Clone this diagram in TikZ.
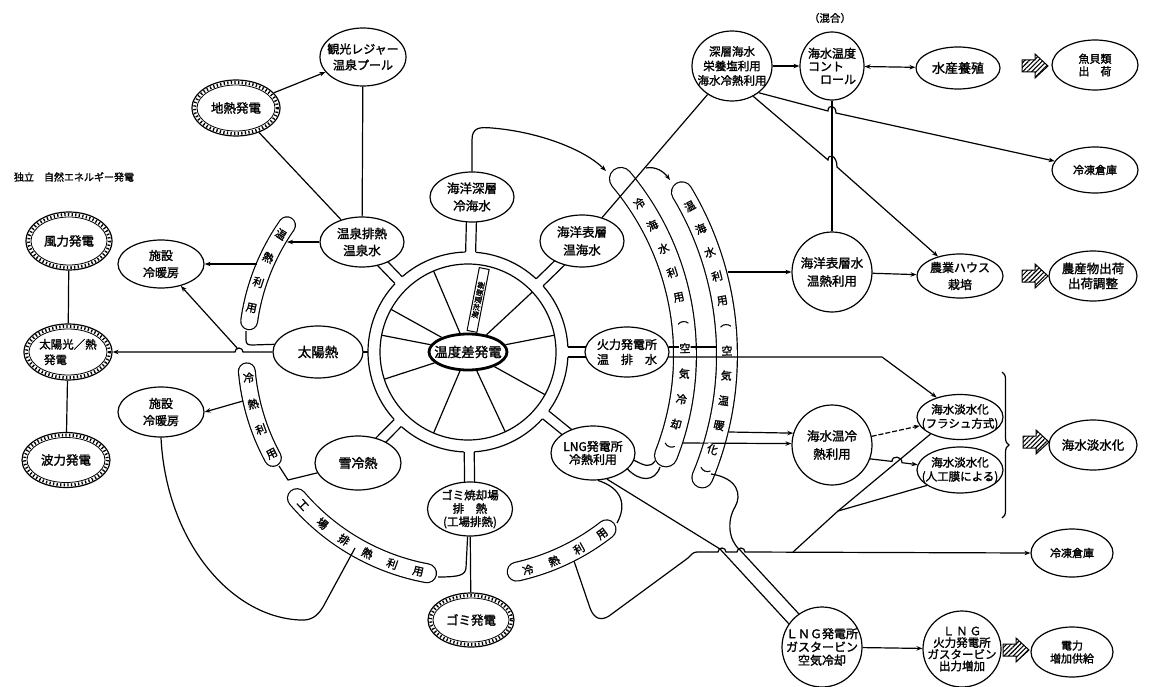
\documentclass[tikz,border=0pt]{standalone}
\usepackage{fontspec}
\newfontfamily\jpf[FakeBold=1.6]{Noto Sans CJK JP}
\usetikzlibrary{calc,shapes.geometric,arrows.meta,patterns,patterns.meta,decorations.pathreplacing}
\tikzset{
  el/.style 2 args={ellipse, draw, fill=white, line width=1.2pt, minimum width=#1, minimum height=#2, inner sep=0pt},
  lbl/.style={align=center, inner sep=0pt},
  ctext/.style={font=\jpf\fontsize{11}{11}\selectfont, fill=white, inner sep=0.3pt},
  hatchfill/.style={line width=1pt, pattern={Lines[angle=45, distance=3.2pt, line width=1.1pt]}},
}
\newcommand\enode[8]{\node[el={#4}{#5}, label={[lbl, font={\jpf\fontsize{#6}{#7}\selectfont}]center:{#8}}] (#1) at (#2,#3) {};}
\newcommand\gnode[7]{%
  \node[el={#4}{#5}, label={[lbl, font={\jpf\fontsize{#6}{15.5}\selectfont}]center:{#7}}] (#1) at (#2,#3) {};
  \draw[line width=3pt, dash pattern=on 1.3pt off 2.3pt] (#2,#3) ellipse[x radius={#4/2-2.5}, y radius={#5/2-2.5}];
  \draw[line width=0.8pt] (#2,#3) ellipse[x radius={#4/2-5}, y radius={#5/2-5}];}
\newcommand\harrow[3]{%
  \coordinate (#1) at (#2,#3);
  \draw[hatchfill] ($(#1)+(-13,-6)$) -- ($(#1)+(0,-6)$) -- ($(#1)+(0,-12)$) -- ($(#1)+(13,0)$) -- ($(#1)+(0,12)$) -- ($(#1)+(0,6)$) -- ($(#1)+(-13,6)$) -- cycle;}
\newcommand\capsule[5]{%
  \draw[line width=#5pt, line cap=round] ($(#1)+(#3:#2)$) arc[start angle=#3, end angle=#4, radius=#2];
  \draw[white, line width=#5pt-2.4pt, line cap=round] ($(#1)+(#3:#2)$) arc[start angle=#3, end angle=#4, radius=#2];}
\newcommand\mypipe[2]{%
  \draw ($(C)+(#1:100)+(#1+90:5)$) -- ($(C)+(#1:#2)+(#1+90:5)$);
  \draw ($(C)+(#1:100)+(#1-90:5)$) -- ($(C)+(#1:#2)+(#1-90:5)$);}
\begin{document}
\begin{tikzpicture}[x=1pt, y=-1pt, line width=1.2pt, >={Stealth[length=6pt,width=4.5pt]}]
\fill[white] (0,0) rectangle (1150,687);
\useasboundingbox (0,0) rectangle (1150,687);
\coordinate (C) at (468,352);
\coordinate (C2) at (411,355);
% ring
\draw (C) circle[radius=88];
\foreach \s/\e in {131.7/92.3, 86.3/42, 36/3, -3/-41.2, -47.2/-85.5, -91.5/-131, -137/-222.3}
  \draw ($(C)+(\s:100)$) arc[start angle=\s, end angle=\e, radius=100];
\mypipe{-134}{153}
\mypipe{-88.5}{155}
\mypipe{-44.2}{159}
\mypipe{0}{159}
\mypipe{39}{161}
\mypipe{89.3}{157}
\mypipe{134.7}{156}
\draw (318,352) -- (368,352);
% capsules
\capsule{C}{221}{-145}{-172}{18}
\capsule{C}{222}{-185}{-208.5}{18}
\capsule{C}{225}{-220.5}{-259.5}{20}
\capsule{C}{225}{77.5}{52}{20}
\capsule{C2}{274}{-40}{21.5}{24}
\capsule{C2}{316}{-31}{22.8}{22}
% nodes
\enode{kanko}{363}{57}{86}{58}{12}{16}{観光レジャー\\温泉プール}
\gnode{chinetsu}{236}{108}{88}{56}{12.5}{地熱発電}
\node[font=\jpf\fontsize{10}{12}\selectfont, inner sep=0pt] (dokuritsu) at (74,177) {独立　自然エネルギー発電};
\gnode{fuuryoku}{69}{241}{86}{58}{12.5}{風力発電}
\enode{setsu1}{161}{264}{86}{48}{12}{17}{施設\\冷暖房}
\enode{onsen}{362}{242}{84}{50}{12.5}{17}{温泉排熱\\温泉水}
\gnode{taiyoko}{68}{352}{88}{56}{11.5}{太陽光／熱\\\makebox[58pt][l]{\hspace{5pt}発電}}
\enode{taiyonetsu}{318}{352}{90}{52}{13.5}{16}{太陽熱}
\enode{setsu2}{161}{412}{86}{50}{12}{17}{施設\\冷暖房}
\gnode{haryoku}{66}{460}{88}{55}{12.5}{波力発電}
\enode{yuki}{358}{463}{86}{54}{13}{16}{雪冷熱}
\enode{kaiyoshin}{472}{197}{84}{50}{12.5}{17.5}{海洋深層\\冷海水}
\enode{kaiyohyo}{582}{241}{84}{52}{12.5}{18}{海洋表層\\温海水}
\node[el={78}{36}, line width=2.8pt, label={[lbl,font={\jpf\fontsize{13.5}{16}\selectfont}]center:{温度差発電}}] (tdiff) at (C) {};
\foreach \a in {113,151,169,198,247,295,331,11,43} \draw (tdiff.\a) -- ($(C)+(-\a:88)$);
\node[draw, fill=white, line width=1pt, rotate=79, minimum width=64pt, minimum height=10pt, inner sep=0pt, font=\jpf\fontsize{7.5}{8}\selectfont] (kaiyoondo) at ($(C)+(-79:53)$) {海洋温度差};
\enode{karyoku}{627}{352}{84}{50}{12}{15}{火力発電所\\温　排　水}
\enode{lng}{593}{453}{84}{54}{12}{13}{LNG発電所\\冷熱利用}
\enode{gomi}{470}{509}{85}{54}{11.5}{13.3}{ゴミ焼却場\\排　熱\\(工場排熱)}
\gnode{gomihatsu}{471}{620}{86}{54}{12.5}{ゴミ発電}
\enode{shinso}{732}{66}{80}{70}{11.5}{14.5}{深層海水\\栄養塩利用\\海水冷熱利用}
\node[font=\jpf\fontsize{10.5}{12}\selectfont, inner sep=0pt] (kongo) at (830,18) {（混合）};
\node[el={64}{68}, label={[align=left, inner sep=0pt, font={\jpf\fontsize{12}{13}\selectfont}]center:{海水温度\\コント\\\hspace{12pt}ロール}}] (ondo) at (832,66) {};
\enode{yoshoku}{958}{68}{84}{42}{13}{15}{水産養殖}
\harrow{ha1}{1035}{66}
\enode{gyokai}{1095}{65}{86}{50}{11}{12.5}{魚貝類\\出　荷}
\enode{reito1}{1095}{170}{86}{46}{11}{13}{冷凍倉庫}
\enode{hyosui}{832}{272}{80}{80}{12.5}{18}{海洋表層水\\温熱利用}
\enode{nogyo}{960}{276}{86}{44}{12}{17}{農業ハウス\\栽培}
\harrow{ha2}{1035}{276}
\enode{nosan}{1093}{276}{88}{50}{12.5}{15}{農産物出荷\\出荷調整}
\enode{onrei}{832}{445}{80}{80}{12.5}{18}{海水温冷\\熱利用}
\enode{tansui1}{960}{417}{86}{45}{11.5}{14}{海水淡水化\\(フラシュ方式)}
\enode{tansui2}{960}{470}{86}{46}{11.5}{14}{海水淡水化\\(人工膜による)}
\coordinate (brtop) at (1002,372);
\coordinate (brbot) at (1002,518);
\draw[decorate, decoration={brace, amplitude=7pt}] (brtop) -- (brbot);
\harrow{ha3}{1036}{442}
\enode{tansui3}{1093}{445}{88}{50}{12.5}{15}{海水淡水化}
\enode{reito2}{1072}{553}{82}{48}{11}{13}{冷凍倉庫}
\enode{gt}{822}{647}{80}{80}{12}{13.3}{ＬＮＧ発電所\\ガスタービン\\空気冷却}
\enode{shutsu}{962}{649}{78}{76}{11.5}{11.7}{Ｌ\,Ｎ\,Ｇ\\火力発電所\\ガスタービン\\出力増加}
\harrow{ha4}{1016}{650}
\enode{denryoku}{1072}{652}{82}{50}{11}{13}{電力\\増加供給}
% connectors
\draw[->] (chinetsu) -- (kanko);
\draw (chinetsu) -- (onsen);
\draw (kanko) -- (onsen);
\draw[->] (onsen.west) -- (287,242);
\draw[->] (257,264) -- (setsu1.east);
\draw (246,331) -- (246,340) .. controls (246,344) and (248,345) .. (252,345) -- (taiyonetsu.170);
\draw[->] (238,349) -- (setsu1);
\draw[->] (taiyonetsu.west) -- (243,352) arc[start angle=0, end angle=-180, radius=4] -- (taiyoko.east);
\draw[->] (243,401) -- (setsu2.east);
\draw (279,466) -- (288,480) -- (yuki);
\draw (setsu2.south) .. controls (166,540) and (230,617) .. (300,620) .. controls (312,621) and (318,615) .. (323,607) -- (355,548);
\draw (fuuryoku) -- (taiyoko);
\draw (taiyoko) -- (haryoku);
\draw[->] (kaiyoshin.north) -- (472,140) .. controls (472,127) and (480,127) .. (492,128) .. controls (540,132) and (585,150) .. (606,171);
\draw (shinso) -- (kaiyohyo);
\draw[->] (646,168) .. controls (656,166) and (664,172) .. (670,180);
\draw[->] (shinso) -- (ondo);
\draw[<->] (ondo) -- (yoshoku);
\draw (ondo) -- (hyosui);
\draw[->] (shinso.-45) -- (828,111) .. controls (828,104) and (836,105) .. (836,113) -- (reito1);
\draw[->] (shinso.-55) -- (828,160) .. controls (828,153) and (837,155) .. (837,167) -- (nogyo);
\draw[->] (728,272) -- (hyosui);
\draw[->] (hyosui) -- (nogyo);
\draw ($(karyoku.east)+(-1,-5)$) -- (716,347);
\draw[->] ($(karyoku.east)+(-1,5)$) -- (882,357) -- (tansui1.140);
\draw[->] (729,432) -- (onrei.163);
\draw[->] (682,443) -- (onrei.178);
\draw[->, dash pattern=on 5pt off 2pt] (onrei) -- (tansui1);
\draw[->] (onrei.-20) -- (892,461.4) .. controls (892,455) and (902,456) .. (902,462.7) -- (tansui2);
\draw (793,552) -- (838,511) -- (tansui1.-150);
\draw (838,511) -- (tansui2.-155);
\draw[->] (697,552) -- (718,552) arc[start angle=180, end angle=360, radius=4] -- (737,552) arc[start angle=180, end angle=360, radius=4] -- (reito2.west);
\draw (574,561) -- (590,608) .. controls (594,619) and (601,621) .. (609,616) -- (688,558) .. controls (691,555) and (693,552) .. (697,552);
\draw (lng.-62) -- (720,549) -- (gt.145);
\draw (711,474) .. controls (738,478) and (742,495) .. (735,507) .. controls (727,520) and (728,540) .. (740,550) -- (gt.125);
\draw (lng.-25) .. controls (640,482) and (655,482) .. (660,467);
\draw (lng.-10) .. controls (645,466) and (650,468) .. (655,461);
\draw (lng.-80) .. controls (622,488) and (627,505) .. (617,523);
\draw (gomi.-95) -- (466,568) .. controls (465,575) and (460,577) .. (438,577);
\draw (gomi) -- (gomihatsu);
\draw[->] (gt) -- (shutsu);
% capsule texts
\foreach \ch [count=\i] in {温,熱,利,用}{\pgfmathsetmacro\ang{147.8+6.9*(\i-1)}\pgfmathsetmacro\fang{-(147.8+6.9*(\i-1))}\node[ctext, rotate=\ang-180] (ca\i) at ($(C)+(\fang:221)$) {\ch};}
\foreach \ch [count=\i] in {冷,熱,利,用}{\pgfmathsetmacro\ang{186.7+6.9*(\i-1)}\pgfmathsetmacro\fang{-(186.7+6.9*(\i-1))}\node[ctext, rotate=\ang-180] (cb\i) at ($(C)+(\fang:221)$) {\ch};}
\foreach \ch [count=\i] in {工,場,排,熱,利,用}{\pgfmathsetmacro\ang{222.8+6.88*(\i-1)}\pgfmathsetmacro\fang{-(222.8+6.88*(\i-1))}\node[ctext, rotate=\ang-270] (cc\i) at ($(C)+(\fang:225)$) {\ch};}
\foreach \ch [count=\i] in {冷,熱,利,用}{\pgfmathsetmacro\ang{-74.6+7*(\i-1)}\pgfmathsetmacro\fang{-(-74.6+7*(\i-1))}\node[ctext, rotate=\ang+90] (cd\i) at ($(C)+(\fang:226)$) {\ch};}
\foreach \ch [count=\i] in {冷,海,水,利,用,︵,空,気,冷,却,︶}{\pgfmathsetmacro\ang{33.6-5.36*(\i-1)}\pgfmathsetmacro\fang{-(33.6-5.36*(\i-1))}\node[ctext, rotate=\ang] (ce\i) at ($(C2)+(\fang:274)$) {\ch};}
\foreach \ch [count=\i] in {温,海,水,利,用,︵,空,気,温,暖,化,︶}{\pgfmathsetmacro\ang{28.1-4.55*(\i-1)}\pgfmathsetmacro\fang{-(28.1-4.55*(\i-1))}\node[ctext, rotate=\ang] (cf\i) at ($(C2)+(\fang:316)$) {\ch};}
\end{tikzpicture}
\end{document}
